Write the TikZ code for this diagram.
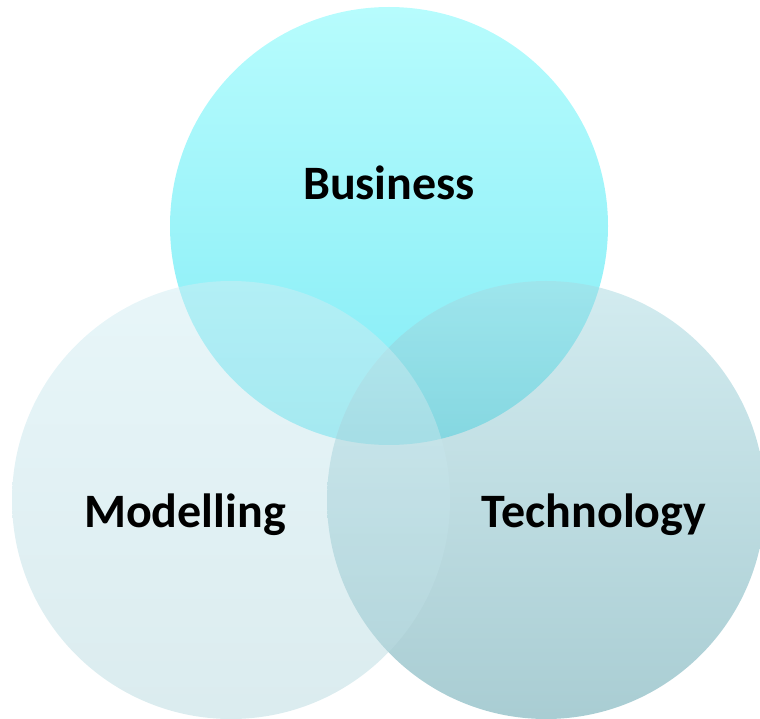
\documentclass[tikz,border=0pt]{standalone}
\usepackage{fontspec}
\setmainfont{Carlito}
\definecolor{bustop}{RGB}{111,249,251}
\definecolor{busbot}{RGB}{5,217,237}
\definecolor{techtop}{RGB}{167,217,225}
\definecolor{techbot}{RGB}{83,155,167}
\definecolor{modtop}{RGB}{209,237,243}
\definecolor{modbot}{RGB}{183,217,223}
\tikzset{
  venn/.style = {circle, inner sep = 0pt, minimum size = 438pt, draw = none, fill opacity = 0.5},
  vennlabel/.style = {font = \fontsize{48}{50}\selectfont\bfseries, text = black, inner sep = 0pt}
}

\begin{document}
\begin{tikzpicture}[x = 1pt, y = -1pt]
              \useasboundingbox (0,0) rectangle (760,719);
              \node[venn, top color = bustop, bottom color = busbot] (business) at (389,226) {};
              \node[venn, top color = techtop, bottom color = techbot] (technology) at (546,500) {};
              \node[venn, top color = modtop, bottom color = modbot] (modelling) at (231,500) {};
              \node[vennlabel] (businesslabel) at (389,183) {Business};
              \node[vennlabel] (modellinglabel) at (185,515) {Modelling};
              \node[vennlabel] (technologylabel) at (594,515) {Technology};
          \end{tikzpicture}
\end{document}
